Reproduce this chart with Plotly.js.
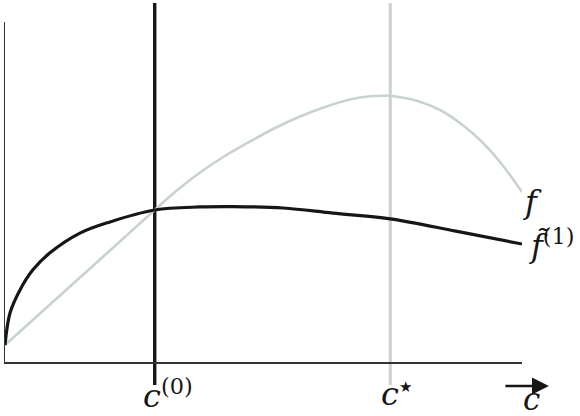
<!DOCTYPE html>
<html>
<head>
<meta charset="utf-8">
<script src="https://cdn.plot.ly/plotly-3.0.1.min.js"></script>
<style>
  html, body { margin:0; padding:0; background:#fff; }
  #plot { width:580px; height:416px; }
</style>
</head>
<body>
<div id="plot"></div>
<script>
(function(){
  'use strict';

  // c values along the horizontal axis (arbitrary units, 0..10)
  const cF = [0, 1.451, 2.896, 3.288, 3.772, 4.255, 4.739, 5.222, 5.706, 6.190, 6.673,
              7.060, 7.408, 7.737, 8.027, 8.414, 8.801, 9.188, 9.574, 10];
  const fVals = [0.50, 2.485, 4.471, 5.000, 5.574, 6.059, 6.485, 6.882, 7.221, 7.500, 7.721,
                 7.815, 7.829, 7.765, 7.656, 7.412, 7.029, 6.529, 5.882, 5.000];

  const cApprox = [0, 0.097, 0.29, 0.54, 0.87, 1.45, 2.03, 2.896, 3.77, 4.41, 5.38, 6.34, 7.45, 8.72, 10];
  const approxVals = [0.50, 1.44, 2.12, 2.71, 3.21, 3.79, 4.12, 4.471, 4.56, 4.57, 4.53, 4.38, 4.21, 3.85, 3.47];

  const c0 = 2.896;
  const cStar = 7.452;

  const BLACK = '#161616';
  const GREY = '#c8d2cf';
  const FONT = 'DejaVu Serif, serif';

  const traces = [
    {
      x: cF, y: fVals, mode:'lines', type:'scatter',
      line:{ color:GREY, width:2.6, shape:'spline', smoothing:1 },
      hoverinfo:'skip', cliponaxis:false
    },
    {
      x: cApprox, y: approxVals, mode:'lines', type:'scatter',
      line:{ color:BLACK, width:3.2, shape:'spline', smoothing:1 },
      hoverinfo:'skip', cliponaxis:false
    }
  ];

  const vline = (x, color, w) => ({
    type:'line', xref:'x', yref:'paper', x0:x, x1:x, y0:-0.068, y1:1.056,
    line:{ color:color, width:w }, layer:'below'
  });

  const ann = (text, x, y, xref, extra) => Object.assign({
    text:text, x:x, y:y, xref:xref, yref:'paper', showarrow:false,
    font:{ family:FONT, size:32, color:BLACK }
  }, extra || {});

  const layout = {
    width:580, height:416,
    margin:{ l:5, r:58, t:22, b:54 },
    paper_bgcolor:'#fff', plot_bgcolor:'#fff',
    showlegend:false,
    xaxis:{ range:[0,10], showgrid:false, zeroline:false, showticklabels:false, ticks:'',
            showline:true, linecolor:'#333', linewidth:1.5, fixedrange:true },
    yaxis:{ range:[0,10], showgrid:false, zeroline:false, showticklabels:false, ticks:'',
            showline:true, linecolor:'#333', linewidth:1.5, fixedrange:true },
    shapes:[ vline(c0, BLACK, 3.4), vline(cStar, GREY, 3) ],
    annotations:[
      ann('<i>c</i><sup>(0)</sup>', c0, -0.091, 'x', { xanchor:'center', yanchor:'middle', xshift:13, yshift:-1 }),
      ann('<i>c</i><sup><span style="font-size:15px">★</span></sup>', cStar, -0.091, 'x', { xanchor:'center', yanchor:'middle', xshift:6, yshift:-1 }),
      ann('<i>c</i>', 1.0097, -0.12, 'paper', { xanchor:'center', yanchor:'middle', xshift:4, yshift:4,
        font:{ family:FONT, size:31, color:BLACK } }),
      ann('<i>f</i>', 1.021, 0.47, 'paper', { xanchor:'center', yanchor:'middle' }),
      ann('<i>f̃</i><sup>(1)</sup>', 1.0097, 0.347, 'paper', { xanchor:'left', yanchor:'middle' }),
      { x:1.052, y:-0.0706, xref:'paper', yref:'paper', text:'', showarrow:true,
        ax:-45, ay:0, arrowhead:2, arrowsize:1.3, arrowwidth:2.6, arrowcolor:BLACK }
    ]
  };

  Plotly.newPlot('plot', traces, layout, { displayModeBar:false, staticPlot:true });
})();
</script>
</body>
</html>
